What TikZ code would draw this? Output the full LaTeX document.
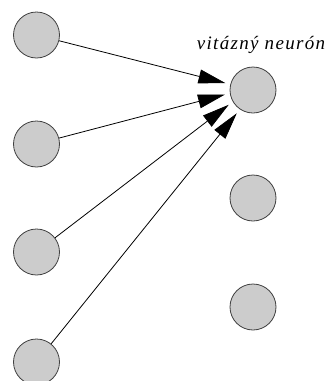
\documentclass[tikz,border=0pt]{standalone}
\usetikzlibrary{arrows.meta}
\usepackage{fontspec}
\setmainfont{Liberation Serif}
\begin{document}
\begin{tikzpicture}[x=1pt,y=-1pt,
  neuron/.style={circle, draw=black!75, line width=0.8pt, fill=black!20,
    minimum size=46pt, inner sep=0pt},
  link/.style={line width=0.8pt, -{Triangle[length=27pt,width=14pt]}, shorten >=5pt}]
  \path[use as bounding box] (0,0) rectangle (327,381);
  \clip (0,0) rectangle (327,381);
  % input layer
  \node[neuron] (a1) at (36.5,35) {};
  \node[neuron] (a2) at (36.5,144) {};
  \node[neuron] (a3) at (36.5,252) {};
  \node[neuron] (a4) at (36.5,362) {};
  % output layer
  \node[neuron] (w) at (253,90) {};
  \node[neuron] (b2) at (253,198) {};
  \node[neuron] (b3) at (253,307) {};
  \node[font=\itshape\fontsize{19}{22}\selectfont\addfontfeature{LetterSpace=7}, anchor=base, inner sep=0pt] (lbl) at (261,49) {vitázný neurón};
  % connections to the winning neuron
  \draw[link] (a1) -- (w.166);
  \draw[link] (a2) -- (w.188);
  \draw[link] (a3) -- (w.210);
  \draw[link] (a4) -- (w.236);
\end{tikzpicture}
\end{document}
